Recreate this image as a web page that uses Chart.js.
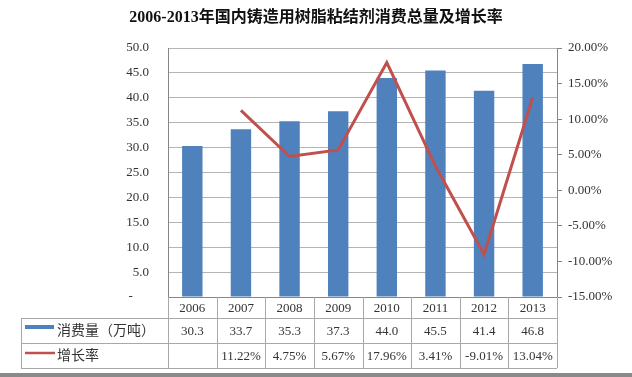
<!DOCTYPE html>
<html>
<head>
<meta charset="utf-8">
<script src="https://cdn.jsdelivr.net/npm/chart.js@4/dist/chart.umd.min.js"></script>
<style>
    html, body { margin: 0; padding: 0; background: #fff; }
    #wrap { width: 632px; height: 377px; }
</style>
</head>
<body>
<div id="wrap"><canvas id="chart" width="632" height="377"></canvas></div>
<script>
    const years = ['2006', '2007', '2008', '2009', '2010', '2011', '2012', '2013'];
    const consumption = [30.3, 33.7, 35.3, 37.3, 44.0, 45.5, 41.4, 46.8];
    const growthRate = [null, 11.22, 4.75, 5.67, 17.96, 3.41, -9.01, 13.04];
    const consumptionLabel = '消费量（万吨）';
    const growthLabel = '增长率';
    const titleText = '2006-2013年国内铸造用树脂粘结剂消费总量及增长率';

    const BAR_COLOR = '#4F81BD';
    const LINE_COLOR = '#C0504D';
    const AXIS_COLOR = '#868686';
    const GRID_COLOR = '#b4b4b4';
    const TABLE_COLOR = '#a8a8a8';
    const NUM_FONT = '"Liberation Serif", "Noto Sans CJK SC", serif';
    const CJK_FONT = '"Liberation Serif", "Noto Sans CJK SC", sans-serif';

    // data table under the plot, Excel style
    const dataTablePlugin = {
        id: 'dataTable',
        afterDraw(chart) {
            const ctx = chart.ctx;
            const area = chart.chartArea;
            const xScale = chart.scales.x;
            const step = (xScale.right - xScale.left) / years.length;
            const tableLeft = 21;
            const rowY = [area.bottom, area.bottom + 21, area.bottom + 46, area.bottom + 71];

            ctx.save();
            ctx.strokeStyle = TABLE_COLOR;
            ctx.lineWidth = 1;
            ctx.beginPath();
            for (let r = 1; r < rowY.length; r++) {
                ctx.moveTo(tableLeft, Math.round(rowY[r]) + 0.5);
                ctx.lineTo(xScale.right, Math.round(rowY[r]) + 0.5);
            }
            for (let i = 0; i <= years.length; i++) {
                const x = Math.round(xScale.left + i * step) + 0.5;
                ctx.moveTo(x, rowY[0]);
                ctx.lineTo(x, rowY[3]);
            }
            ctx.moveTo(tableLeft + 0.5, rowY[1]);
            ctx.lineTo(tableLeft + 0.5, rowY[3]);
            ctx.stroke();

            ctx.fillStyle = '#333';
            ctx.textAlign = 'center';
            ctx.textBaseline = 'middle';
            ctx.font = '13px ' + NUM_FONT;
            years.forEach((year, i) => {
                const cx = xScale.getPixelForValue(i);
                ctx.fillText(year, cx, (rowY[0] + rowY[1]) / 2 + 1);
                ctx.fillText(consumption[i].toFixed(1), cx, (rowY[1] + rowY[2]) / 2 + 1);
                if (growthRate[i] !== null) {
                    ctx.fillText(growthRate[i].toFixed(2) + '%', cx, (rowY[2] + rowY[3]) / 2 + 1);
                }
            });

            // legend keys
            ctx.fillStyle = BAR_COLOR;
            ctx.fillRect(25, rowY[1] + 7, 29, 4);
            ctx.strokeStyle = LINE_COLOR;
            ctx.lineWidth = 2.5;
            ctx.beginPath();
            ctx.moveTo(25, rowY[2] + 10);
            ctx.lineTo(55, rowY[2] + 10);
            ctx.stroke();

            ctx.fillStyle = '#333';
            ctx.textAlign = 'left';
            ctx.font = '14px ' + CJK_FONT;
            ctx.fillText(consumptionLabel, 57, (rowY[1] + rowY[2]) / 2 + 1);
            ctx.fillText(growthLabel, 57, (rowY[2] + rowY[3]) / 2 + 1);

            // bottom frame strip
            ctx.fillStyle = '#8a8a8a';
            ctx.fillRect(0, chart.height - 4, chart.width, 4);
            ctx.restore();
        }
    };

    new Chart(document.getElementById('chart'), {
        data: {
            labels: years,
            datasets: [
                {
                    type: 'line',
                    label: growthLabel,
                    data: growthRate,
                    yAxisID: 'y1',
                    borderColor: LINE_COLOR,
                    backgroundColor: LINE_COLOR,
                    borderWidth: 3,
                    pointRadius: 0,
                    tension: 0,
                    order: 0
                },
                {
                    type: 'bar',
                    label: consumptionLabel,
                    data: consumption,
                    yAxisID: 'y',
                    backgroundColor: BAR_COLOR,
                    barPercentage: 0.42,
                    categoryPercentage: 1,
                    order: 1
                }
            ]
        },
        options: {
            responsive: false,
            animation: false,
            layout: { padding: { left: 0, right: 0, top: 0, bottom: 0 } },
            plugins: {
                legend: { display: false },
                tooltip: { enabled: false },
                title: {
                    display: true,
                    text: titleText,
                    color: '#111',
                    font: { family: CJK_FONT, size: 16, weight: 'bold', lineHeight: 1.2 },
                    padding: { top: 8, bottom: 20.8 }
                }
            },
            scales: {
                x: {
                    grid: { drawOnChartArea: false, drawTicks: false },
                    border: { color: AXIS_COLOR },
                    ticks: { display: false },
                    afterFit: (scale) => { scale.height = 80; }
                },
                y: {
                    position: 'left',
                    min: 0,
                    max: 50,
                    ticks: {
                        stepSize: 5,
                        color: '#333',
                        padding: 19,
                        font: { family: NUM_FONT, size: 13 },
                        callback: (value) => (value === 0 ? '-     ' : value.toFixed(1))
                    },
                    grid: { color: GRID_COLOR, drawTicks: false },
                    border: { color: AXIS_COLOR },
                    afterFit: (scale) => { scale.width = 168; }
                },
                y1: {
                    position: 'right',
                    min: -15,
                    max: 20,
                    ticks: {
                        stepSize: 5,
                        color: '#333',
                        padding: 6,
                        font: { family: NUM_FONT, size: 13 },
                        callback: (value) => value.toFixed(2) + '%'
                    },
                    grid: { drawOnChartArea: false, color: AXIS_COLOR, tickLength: 5 },
                    border: { color: AXIS_COLOR },
                    afterFit: (scale) => { scale.width = 75; }
                }
            }
        },
        plugins: [dataTablePlugin]
    });
</script>
</body>
</html>
